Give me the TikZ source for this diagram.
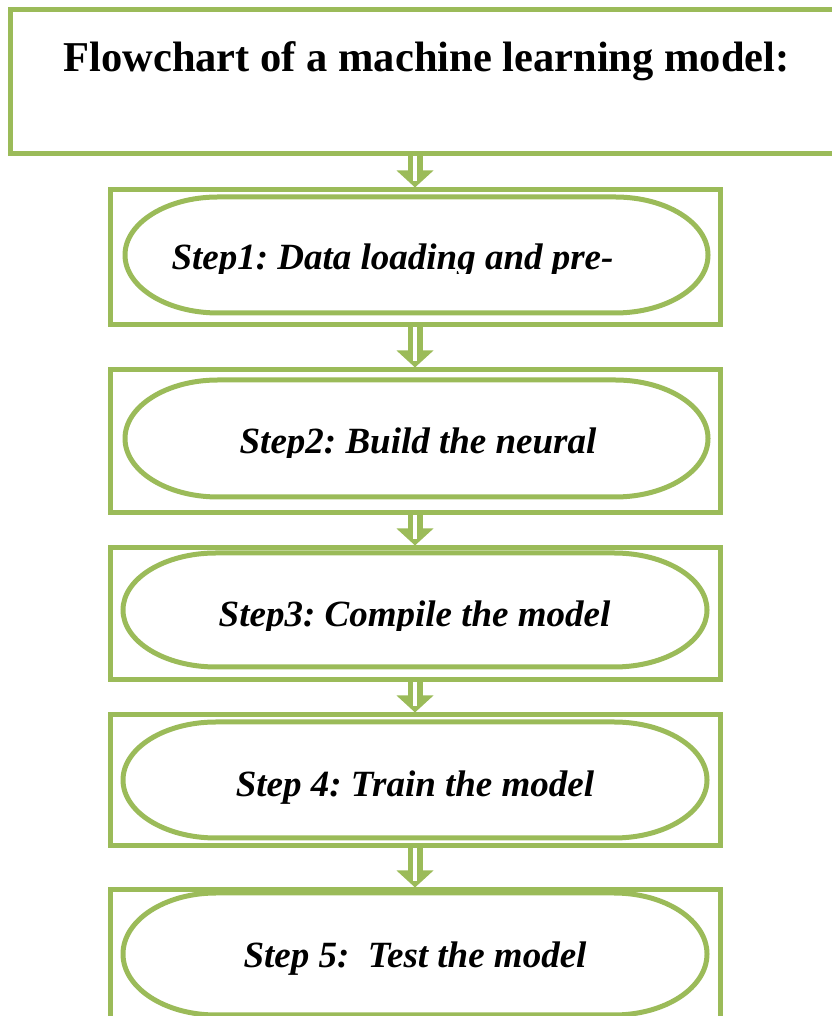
\documentclass[tikz,border=0pt]{standalone}
\usepackage{fontspec}
\setmainfont{Liberation Serif}
\usetikzlibrary{arrows.meta,positioning}
\definecolor{leaf}{HTML}{9BBB59}
\frenchspacing
\tikzset{
  box/.style      = {draw=leaf, line width=5pt, minimum width=610pt, inner sep=0pt},
  oval/.style     = {draw=leaf, line width=5pt},
  headtext/.style = {anchor=base, inner sep=0pt, font=\fontsize{42.5}{46}\selectfont\bfseries},
  steptext/.style = {anchor=base, inner sep=0pt, font=\fontsize{37}{40}\selectfont\bfseries\itshape},
  flow/.style     = {draw=leaf, line width=15pt, -{Triangle[width=36pt,length=17pt]}},
  core/.style     = {draw=white, line width=4pt},
}

\begin{document}
\begin{tikzpicture}[x=1pt, y=1pt]
    \useasboundingbox (0,0) rectangle (831,1016);

    % Title box
    \node[box, minimum width=830pt, minimum height=144pt] (title) at (425,934) {};
    \node[headtext] (head) at (426.5,944) {Flowchart of a machine learning model:};

    % Step boxes (one column)
    \node[box, minimum height=135pt, below=31pt of title, xshift=-10pt] (b1) {};
    \node[box, minimum height=143pt, below=40pt of b1] (b2) {};
    \node[box, minimum height=132pt, below=30pt of b2] (b3) {};
    \node[box, minimum height=131pt, below=30pt of b3] (b4) {};
    \node[box, minimum height=140pt, below=39pt of b4] (b5) {};

    % Ovals inside the boxes
    \draw[oval] (218,819) -- (615,819) arc[start angle=90, end angle=-90, x radius=93, y radius=58]
      -- (218,703) arc[start angle=270, end angle=90, x radius=93, y radius=58] -- cycle;
    \draw[oval] (218,636) -- (615,636) arc[start angle=90, end angle=-90, x radius=93, y radius=58.5]
      -- (218,519) arc[start angle=270, end angle=90, x radius=93, y radius=58.5] -- cycle;
    \draw[oval] (216,463) -- (614,463) arc[start angle=90, end angle=-90, x radius=93, y radius=57]
      -- (216,349) arc[start angle=270, end angle=90, x radius=93, y radius=57] -- cycle;
    \draw[oval] (216,294) -- (614,294) arc[start angle=90, end angle=-90, x radius=93, y radius=58]
      -- (216,178) arc[start angle=270, end angle=90, x radius=93, y radius=58] -- cycle;
    \draw[oval] (216,123) -- (614,123) arc[start angle=90, end angle=-90, x radius=93, y radius=61]
      -- (216,1) arc[start angle=270, end angle=90, x radius=93, y radius=61] -- cycle;

    % Step labels (first three cut at the bottom)
    \begin{scope}
      \clip (110,742) rectangle (720,800);
      \node[steptext] (s1) at (392.5,746) {Step1: Data loading and pre-};
    \end{scope}
    \begin{scope}
      \clip (110,558) rectangle (720,620);
      \node[steptext] (s2) at (418,562) {Step2: Build the neural};
    \end{scope}
    \begin{scope}
      \clip (110,385) rectangle (720,450);
      \node[steptext] (s3) at (414.5,389) {Step3: Compile the model};
    \end{scope}
    \node[steptext] (s4) at (415,219) {Step 4: Train the model};
    \node[steptext] (s5) at (415,48) {Step 5:~ Test the model};

    % Hollow arrows between boxes
    \draw[flow] (title.south -| b1.north) -- (b1.north);
    \draw[core] (title.south -| b1.north) -- ([yshift=6pt]b1.north);
    \draw[flow] (b1.south) -- (b2.north);
    \draw[core] (b1.south) -- ([yshift=6pt]b2.north);
    \draw[flow] (b2.south) -- (b3.north);
    \draw[core] (b2.south) -- ([yshift=6pt]b3.north);
    \draw[flow] (b3.south) -- (b4.north);
    \draw[core] (b3.south) -- ([yshift=6pt]b4.north);
    \draw[flow] (b4.south) -- (b5.north);
    \draw[core] (b4.south) -- ([yshift=6pt]b5.north);
\end{tikzpicture}
\end{document}
